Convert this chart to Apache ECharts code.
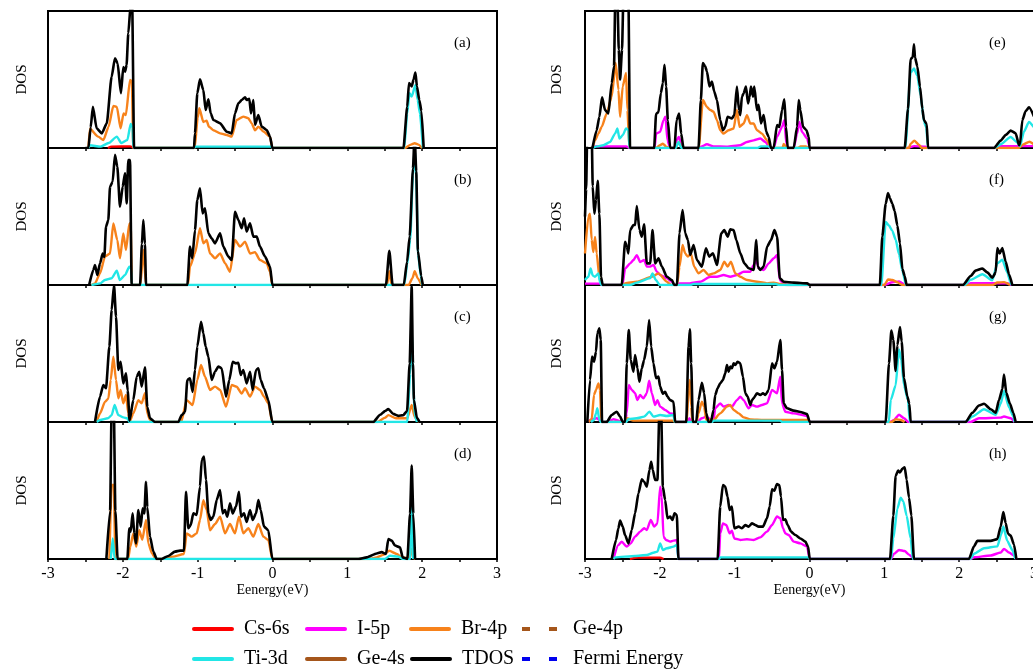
<!DOCTYPE html>
<html>
<head>
<meta charset="utf-8">
<script src="https://cdn.jsdelivr.net/npm/echarts@6/dist/echarts.min.js"></script>
<style>
  html, body { margin: 0; padding: 0; background: #fff; }
  #chart { width: 1033px; height: 672px; }
</style>
</head>
<body>
<div id="chart"></div>
<script>
// energy axis ticks
const xTicks = [-3, -2, -1, 0, 1, 2, 3]
const panelLetters = ['(a)', '(b)', '(c)', '(d)', '(e)', '(f)', '(g)', '(h)']

// ---- panel (a) ----
const tdosA = [[-2.5,0],[-2.46,0],[-2.43,15],[-2.40,30],[-2.35,14.4],[-2.28,10.7],[-2.215,18],[-2.15,52],[-2.105,65.5],[-2.07,61.8],[-2.025,40],[-1.994,59],[-1.97,55.7],[-1.95,60.6],[-1.927,83.7],[-1.895,105],[-1.875,105],[-1.85,0],
  [-1.049,0],[-1.036,10.7],[-1.005,39.9],[-0.969,50.1],[-0.924,42.3],[-0.893,27.7],[-0.857,35.5],[-0.826,25.3],[-0.79,20.4],[-0.70,18],[-0.612,11.9],[-0.545,10.7],[-0.501,25.3],[-0.456,32.6],[-0.412,35],[-0.367,37],[-0.345,35],[-0.31,36],[-0.287,25.3],[-0.256,35],[-0.234,16.8],[-0.189,24.1],[-0.145,15.6],[-0.078,13.1],[-0.033,8.3],[-0.002,0],
  [1.75,0],[1.80,30],[1.824,47.5],[1.86,45],[1.885,50],[1.91,55],[1.93,45],[1.962,35],[1.99,27],[2.02,0]]
const brA = [[-2.46,0],[-2.44,14],[-2.33,8.3],[-2.26,5.8],[-2.19,15.6],[-2.127,30.7],[-2.08,30],[-2.03,14.4],[-1.99,25.3],[-1.96,24],[-1.904,49.6],[-1.88,49],[-1.86,0],
  [-1.04,0],[-1.0,22],[-0.978,29],[-0.924,19],[-0.88,20],[-0.85,15.6],[-0.79,13],[-0.70,10.7],[-0.612,9.5],[-0.545,8.3],[-0.479,20.4],[-0.39,22.9],[-0.323,21.7],[-0.278,18],[-0.234,13],[-0.189,15.6],[-0.122,12],[-0.033,8.3],[-0.002,0],
  [1.77,0],[1.85,2.5],[1.90,3.5],[1.95,2.5],[2.0,0]]
const tiA = [[-2.46,0],[-2.44,2],[-2.30,1],[-2.19,3.6],[-2.08,8.3],[-2.02,3.6],[-1.94,5.8],[-1.895,17.5],[-1.87,15],[-1.86,0],
  [-1.05,0],[-1.03,1],[-0.01,1],[0,0],
  [1.76,0],[1.80,25],[1.83,40],[1.86,37.5],[1.91,46],[1.94,35],[1.97,25],[2.01,0]]
const csA = [[-2.2,0],[-2.15,1],[-1.9,1.2],[-1.86,0]]

// ---- panel (b) ----
const tdosB = [[-2.45,0],[-2.394,11],[-2.372,14.6],[-2.341,7.3],[-2.305,15.8],[-2.269,23],[-2.247,20.5],[-2.225,42.6],[-2.194,47.4],[-2.171,71.8],[-2.136,75.4],[-2.105,95],[-2.074,86.4],[-2.038,57.2],[-2.002,71.8],[-1.971,81.5],[-1.948,59.6],[-1.927,91.2],[-1.904,91.2],[-1.882,0],
  [-1.77,0],[-1.745,30],[-1.726,47.4],[-1.705,30],[-1.69,0],
  [-1.138,0],[-1.103,28],[-1.072,19.5],[-1.036,40],[-1.005,62],[-0.969,70.6],[-0.934,52.3],[-0.902,56],[-0.857,37.7],[-0.813,34],[-0.768,30.4],[-0.70,37.7],[-0.657,28],[-0.59,20.7],[-0.545,18.2],[-0.501,53.5],[-0.456,47.4],[-0.412,41.4],[-0.38,48.7],[-0.345,39],[-0.30,45],[-0.256,35.3],[-0.211,35.3],[-0.167,28],[-0.10,20.7],[-0.033,13.4],[-0.002,0],
  [1.516,0],[1.561,25],[1.605,0],
  [1.754,0],[1.798,17],[1.833,35.5],[1.877,85],[1.899,110],[1.921,83],[1.943,25],[1.987,6.6],[2.009,0]]
const brB = [[-2.42,0],[-2.372,1.2],[-2.305,8.5],[-2.238,20.7],[-2.171,23],[-2.127,45],[-2.074,32.8],[-2.038,19.5],[-1.994,37.7],[-1.958,25.5],[-1.913,45],[-1.895,45],[-1.88,0],
  [-1.765,0],[-1.726,25.5],[-1.69,0],
  [-1.13,0],[-1.103,13.4],[-1.036,23],[-0.969,41.4],[-0.924,30.4],[-0.879,32.8],[-0.835,23],[-0.768,19.5],[-0.70,23],[-0.635,16],[-0.568,9.7],[-0.501,32.8],[-0.434,28],[-0.367,31.6],[-0.30,23],[-0.234,24],[-0.167,18.2],[-0.078,15.8],[-0.033,9.7],[-0.002,0],
  [1.53,0],[1.561,10],[1.59,0],
  [1.82,0],[1.87,5],[1.90,10],[1.94,5],[1.99,0]]
const tiB = [[-2.42,0],[-2.30,1.2],[-2.24,3.6],[-2.15,4.9],[-2.08,10.5],[-2.04,3.6],[-1.97,7.3],[-1.913,13.4],[-1.89,12],[-1.88,0],
  [1.76,0],[1.80,15],[1.84,33],[1.877,80],[1.90,100],[1.92,78],[1.945,22],[1.987,5],[2.0,0]]

// ---- panel (c) ----
const tdosC = [[-2.372,0],[-2.305,18.5],[-2.261,27],[-2.225,24.6],[-2.18,55],[-2.149,81.8],[-2.118,100],[-2.091,76.9],[-2.06,38],[-2.029,44],[-1.994,28.2],[-1.958,35.5],[-1.935,23],[-1.91,1],[-1.86,16],[-1.815,33],[-1.78,36.7],[-1.748,25.8],[-1.704,40],[-1.673,11],[-1.637,2.7],[-1.57,0],
  [-1.258,0],[-1.214,5],[-1.169,7.5],[-1.138,30.7],[-1.103,31.9],[-1.067,22],[-1.036,38],[-1.005,55],[-0.955,73.2],[-0.924,64.7],[-0.893,55],[-0.857,47.7],[-0.813,30.7],[-0.768,36.7],[-0.724,40.4],[-0.679,39.2],[-0.621,18.5],[-0.577,30.7],[-0.532,44],[-0.488,42.8],[-0.456,43.3],[-0.425,34.3],[-0.39,38],[-0.345,28.2],[-0.30,36.7],[-0.265,23.4],[-0.22,38],[-0.189,39.2],[-0.158,30.7],[-0.114,24.6],[-0.056,16],[-0.002,0],
  [1.347,0],[1.439,5.3],[1.504,8],[1.548,9.5],[1.614,5.9],[1.68,4.5],[1.746,5],[1.798,8],[1.833,42.7],[1.86,99],[1.877,42.7],[1.89,16],[1.93,3],[1.965,0]]
const brC = [[-2.35,0],[-2.305,6.3],[-2.238,14.8],[-2.194,17],[-2.162,30.7],[-2.127,47.7],[-2.091,30.7],[-2.06,17.3],[-2.029,23.4],[-1.994,13.6],[-1.958,19.7],[-1.927,6.3],[-1.91,0],[-1.86,6.3],[-1.793,16],[-1.748,13.6],[-1.704,21],[-1.673,6.3],[-1.637,1.5],[-1.6,0],
  [-1.22,0],[-1.147,16],[-1.067,12.4],[-1.005,30.7],[-0.955,41.6],[-0.902,33],[-0.835,23.4],[-0.768,25.8],[-0.70,23.4],[-0.621,11.2],[-0.545,27],[-0.479,25.8],[-0.412,20.7],[-0.367,24.6],[-0.30,18.5],[-0.234,25.8],[-0.167,23.4],[-0.114,18.5],[-0.056,13.6],[-0.002,0],
  [1.40,0],[1.50,3],[1.548,5],[1.65,2.7],[1.80,2.7],[1.86,12.4],[1.90,3.6],[1.94,1],[1.96,0]]
const tiC = [[-2.35,0],[-2.305,1.5],[-2.20,2.7],[-2.149,5],[-2.11,12.4],[-2.06,5],[-1.994,3.4],[-1.94,2.7],[-1.91,0],
  [1.80,0],[1.84,35],[1.86,70],[1.877,35],[1.90,5],[1.93,0]]

// ---- panel (d) ----
const tdosD = [[-2.22,0],[-2.17,35],[-2.15,110],[-2.12,110],[-2.10,35],[-2.07,0],
  [-1.94,0],[-1.913,22.4],[-1.895,20],[-1.869,33.3],[-1.847,18.7],[-1.824,11.4],[-1.793,35.8],[-1.761,23.6],[-1.735,37],[-1.713,33.3],[-1.69,56.4],[-1.673,37.7],[-1.637,16.3],[-1.592,5.4],[-1.548,0],
  [-1.481,0],[-1.392,2.2],[-1.303,5.4],[-1.236,6.1],[-1.183,6.1],[-1.156,49],[-1.125,22.4],[-1.093,24.8],[-1.058,33.3],[-1.013,32.1],[-0.969,52.8],[-0.946,72.3],[-0.915,74.7],[-0.889,57.7],[-0.857,33.3],[-0.826,28.5],[-0.79,30.9],[-0.746,43],[-0.701,50.4],[-0.666,33.3],[-0.635,35.8],[-0.604,30.9],[-0.568,40.6],[-0.532,33.3],[-0.488,38.2],[-0.448,49],[-0.421,30.9],[-0.381,33.3],[-0.345,27],[-0.30,35.8],[-0.265,28.5],[-0.22,33.3],[-0.189,43],[-0.158,35.8],[-0.114,23.6],[-0.056,21],[-0.002,0],
  [1.147,0],[1.259,1.2],[1.392,4],[1.459,5],[1.517,3.7],[1.548,14.6],[1.593,13.4],[1.637,9.8],[1.704,8.5],[1.74,1.2],[1.802,0],[1.838,33],[1.86,68.3],[1.882,33],[1.905,0]]
const brD = [[-2.18,0],[-2.15,54],[-2.12,54],[-2.10,0],
  [-1.93,0],[-1.90,9],[-1.86,18.7],[-1.82,9],[-1.78,21],[-1.74,14],[-1.69,28.5],[-1.66,11.4],[-1.61,4.1],[-1.56,0],
  [-1.48,0],[-1.33,1.7],[-1.183,3.6],[-1.147,18.7],[-1.08,16.3],[-1.013,18.7],[-0.969,28.5],[-0.924,43],[-0.88,35.8],[-0.835,21],[-0.768,25.5],[-0.70,30.9],[-0.635,18.7],[-0.568,25.5],[-0.501,18.7],[-0.448,30.9],[-0.39,18.7],[-0.323,22.4],[-0.256,16.3],[-0.189,25.5],[-0.122,16.3],[-0.056,13.9],[-0.002,0],
  [1.30,0],[1.392,1.2],[1.481,3],[1.56,6],[1.66,3.6],[1.74,0.7],[1.838,1.2],[1.86,7.3],[1.89,0.7],[1.905,0]]
const tiD = [[-2.16,0],[-2.135,15],[-2.11,0],[1.50,0],[1.57,2.4],[1.68,1.7],[1.74,0],[1.84,0],[1.86,55],[1.88,0]]

// ---- panel (e) ----
const tdosE = [[-2.9,0],[-2.844,13],[-2.808,22.8],[-2.772,37],[-2.732,27.7],[-2.688,25.2],[-2.643,47.3],[-2.612,59.6],[-2.595,110],[-2.567,110],[-2.549,71.8],[-2.531,50],[-2.505,71.8],[-2.487,110],[-2.42,110],[-2.398,0],
  [-2.076,0],[-2.05,25],[-2.018,26.2],[-1.987,40],[-1.96,47.3],[-1.938,60.8],[-1.916,44.9],[-1.893,20.3],[-1.862,0],[-1.804,0],[-1.777,20.3],[-1.742,25.2],[-1.715,10.5],[-1.684,0],
  [-1.483,0],[-1.452,35],[-1.425,62],[-1.394,59.6],[-1.371,55.9],[-1.336,44.9],[-1.304,48.5],[-1.273,41.2],[-1.237,35],[-1.193,20.3],[-1.157,13],[-1.126,15.4],[-1.095,22.8],[-1.037,21.6],[-1.005,24],[-0.97,44.9],[-0.943,27.7],[-0.925,24],[-0.903,37.5],[-0.88,40],[-0.849,44.9],[-0.822,32.6],[-0.8,37.5],[-0.782,44.9],[-0.755,37.5],[-0.738,44.9],[-0.702,27.7],[-0.68,31.6],[-0.648,17.9],[-0.613,24],[-0.577,11.8],[-0.546,8.1],[-0.514,0],
  [-0.479,0],[-0.434,16.7],[-0.403,15.4],[-0.367,27.7],[-0.336,35.5],[-0.314,15.4],[-0.291,0],[-0.211,0],[-0.166,15.4],[-0.144,35],[-0.122,27.7],[-0.086,15.4],[-0.041,13],[-0.01,8.1],[0,0],
  [1.272,0],[1.316,28.4],[1.352,64.9],[1.379,66.2],[1.396,75.7],[1.41,66],[1.441,59.5],[1.477,44.6],[1.508,28.4],[1.53,20.3],[1.566,17.6],[1.584,0],
  [2.465,0],[2.554,5.4],[2.621,9.5],[2.688,12.7],[2.755,10.8],[2.80,2],[2.813,2.7],[2.844,20.3],[2.889,27],[2.933,29.7],[3.0,23]]
const brE = [[-2.9,0],[-2.866,5.6],[-2.821,10.5],[-2.777,15.4],[-2.71,25.2],[-2.643,37.5],[-2.59,62],[-2.553,42.4],[-2.531,22.8],[-2.496,44.9],[-2.451,54.7],[-2.433,27.7],[-2.407,0],
  [-2.05,0],[-2.0,2],[-1.96,3.2],[-1.916,1],[-1.86,0],[-1.79,0],[-1.75,4.4],[-1.70,0],
  [-1.48,0],[-1.425,35],[-1.371,30],[-1.327,27.7],[-1.282,26.5],[-1.237,20.3],[-1.193,13],[-1.148,10.5],[-1.081,13],[-1.014,14.2],[-0.97,27.7],[-0.934,15.4],[-0.88,17.9],[-0.836,24],[-0.791,17.9],[-0.747,17.9],[-0.702,13],[-0.635,10.5],[-0.568,5.6],[-0.523,0.7],[-0.51,0],
  [-0.36,0],[-0.345,3],[-0.30,0],[-0.15,0],[-0.12,1.2],[-0.05,1.2],[0,0],
  [1.33,0],[1.35,3],[1.40,5.4],[1.46,2.5],[1.50,0],
  [2.80,0],[2.85,2.5],[2.94,4.6],[3.0,2.5]]
const tiE = [[-2.9,0],[-2.844,1.2],[-2.755,2],[-2.665,4.4],[-2.598,10.5],[-2.567,14.2],[-2.54,6.9],[-2.496,9.3],[-2.451,14.2],[-2.42,13],[-2.405,0],
  [-1.79,0],[-1.75,4.4],[-1.71,0],
  [-0.70,0],[-0.65,1.2],[-0.55,1.2],[-0.52,0],
  [1.28,0],[1.352,55],[1.396,58],[1.441,52.7],[1.486,38],[1.53,19],[1.56,15],[1.584,0],
  [2.47,0],[2.554,2.7],[2.688,8],[2.777,4],[2.813,1.4],[2.866,12],[2.933,19],[3.0,15]]
const iE = [[-2.9,0],[-2.86,1.2],[-2.45,1.2],[-2.40,0],
  [-2.07,0],[-2.05,10.5],[-1.996,11.8],[-1.951,20.3],[-1.925,22.8],[-1.898,5.6],[-1.862,0],[-1.80,0],[-1.777,5.6],[-1.746,8.1],[-1.715,3.2],[-1.684,0],
  [-1.47,0],[-1.45,1],[-1.371,2.7],[-1.282,1.2],[-1.103,1],[-0.925,2],[-0.836,4.4],[-0.747,5.6],[-0.657,6.9],[-0.59,4.4],[-0.523,0],
  [-0.479,0],[-0.434,8.1],[-0.367,15.4],[-0.336,20.3],[-0.31,3],[-0.291,0],[-0.211,0],[-0.166,10.5],[-0.135,19],[-0.10,11.8],[-0.032,7],[-0.01,3],[0,0],
  [1.30,0],[1.40,1.4],[1.55,1],[1.58,0],
  [2.50,0],[2.55,1.4],[3.0,1.4]]

// ---- panel (f) ----
const tdosF = [[-3,50],[-2.985,70],[-2.97,110],[-2.91,110],[-2.897,72],[-2.875,52],[-2.853,62],[-2.83,76],[-2.808,52],[-2.786,6],[-2.763,0],
  [-2.509,0],[-2.464,31.6],[-2.441,28],[-2.42,23.1],[-2.397,40],[-2.353,43.8],[-2.33,43.8],[-2.308,57.7],[-2.272,40.1],[-2.241,35.3],[-2.21,44.3],[-2.174,15.8],[-2.129,15.8],[-2.098,40.1],[-2.062,15.8],[-2.018,19.5],[-1.973,13.4],[-1.906,6],[-1.839,3.6],[-1.808,0],
  [-1.772,0],[-1.737,37.7],[-1.696,54.7],[-1.661,37.7],[-1.625,32.8],[-1.594,21.9],[-1.549,29.2],[-1.504,18.2],[-1.438,13.4],[-1.384,26.8],[-1.34,20.7],[-1.29,23.1],[-1.237,14.6],[-1.179,37.7],[-1.139,40.1],[-1.094,35.3],[-1.058,40.6],[-1.014,40.1],[-0.978,32.8],[-0.924,23.1],[-0.871,15.8],[-0.813,12.2],[-0.746,11],[-0.71,32.8],[-0.692,13.4],[-0.657,11],[-0.612,13.4],[-0.567,28],[-0.514,32.8],[-0.469,40.1],[-0.433,35.3],[-0.397,4.9],[-0.344,2.4],[-0.21,1.7],[-0.031,1.2],[0.005,0],
  [0.94,0],[0.973,35.5],[1.018,59.2],[1.049,67.1],[1.076,63.2],[1.107,59.2],[1.138,54],[1.174,43.4],[1.209,30.3],[1.241,11.8],[1.272,6.6],[1.298,0],
  [2.05,0],[2.154,6.6],[2.22,10.5],[2.31,12],[2.376,9.2],[2.443,5.3],[2.488,9.2],[2.51,27],[2.541,23],[2.577,27],[2.621,17.1],[2.666,7.9],[2.71,0]]
const brF = [[-3,23],[-2.955,50],[-2.933,52],[-2.911,33],[-2.889,24],[-2.866,35],[-2.844,23],[-2.808,6],[-2.786,1.2],[-2.77,0],
  [-2.50,0],[-2.464,1.2],[-2.308,2.4],[-2.107,6],[-2.018,8.5],[-1.906,2.4],[-1.85,0],
  [-1.77,0],[-1.737,13.4],[-1.696,29.2],[-1.661,23],[-1.625,20.7],[-1.585,23],[-1.541,13.4],[-1.483,8.5],[-1.416,11],[-1.349,7.3],[-1.282,8.5],[-1.192,11],[-1.139,17],[-1.094,13.4],[-1.05,17],[-0.991,8.5],[-0.924,6],[-0.835,3.6],[-0.701,2.4],[-0.567,1.2],[-0.478,1.7],[-0.389,0.7],[-0.3,0],
  [1.0,0],[1.05,4],[1.107,3.6],[1.174,2],[1.24,0],
  [2.45,0],[2.51,1.8],[2.6,2.1],[2.68,0]]
const tiF = [[-3,3.6],[-2.955,6],[-2.925,12],[-2.897,7],[-2.866,6],[-2.82,8.5],[-2.80,2],[-2.78,0],
  [-2.40,0],[-2.308,1.7],[-2.129,5],[-2.098,8.5],[-2.053,3.6],[-2.0,0],
  [-1.6,0],[-1.55,0.7],[-0.45,0.7],[-0.4,0],
  [0.96,0],[1.018,46],[1.062,43.4],[1.107,39.5],[1.152,33],[1.196,22.4],[1.241,10.5],[1.29,0],
  [2.07,0],[2.154,3.9],[2.31,7.9],[2.443,3.4],[2.51,15.8],[2.577,18.4],[2.643,9.2],[2.688,1.3],[2.70,0]]
const iF = [[-3,1],[-2.8,1],[-2.77,0],
  [-2.50,0],[-2.464,12],[-2.397,15.8],[-2.353,18.2],[-2.308,21.8],[-2.263,16.8],[-2.21,18.2],[-2.174,13.4],[-2.129,13.4],[-2.085,14.6],[-2.04,9.7],[-1.996,7.3],[-1.906,4.9],[-1.839,2.4],[-1.8,0],
  [-1.77,0],[-1.737,1.2],[-1.60,1.2],[-1.459,2.4],[-1.327,6],[-1.237,6],[-1.148,7.3],[-1.058,6],[-0.969,7.3],[-0.88,9.7],[-0.79,9.7],[-0.746,14.6],[-0.71,18.2],[-0.679,12.2],[-0.612,11],[-0.545,15.8],[-0.478,19.5],[-0.433,21.9],[-0.397,3.6],[-0.344,1.2],[-0.3,0],
  [1.0,0],[1.107,2],[1.196,2.6],[1.24,1.3],[1.27,0],
  [2.1,0],[2.154,1.3],[2.643,1.3],[2.7,0]]

// ---- panel (g) ----
const tdosG = [[-2.969,0],[-2.933,30.7],[-2.906,47.7],[-2.88,44],[-2.853,51.3],[-2.835,64.7],[-2.808,68.4],[-2.79,60],[-2.772,0],
  [-2.71,0],[-2.643,5.1],[-2.576,7.5],[-2.531,3.9],[-2.496,0],
  [-2.465,0],[-2.442,42.8],[-2.415,67.2],[-2.389,45.3],[-2.353,36.7],[-2.331,48.9],[-2.299,39.2],[-2.273,29.4],[-2.241,39.2],[-2.21,45.3],[-2.174,55],[-2.143,74.5],[-2.116,55],[-2.085,42.8],[-2.05,31.9],[-2.018,33.1],[-1.996,25.8],[-1.96,20.7],[-1.929,22],[-1.898,18.5],[-1.862,16],[-1.817,14.8],[-1.795,0],
  [-1.648,0],[-1.616,55],[-1.598,67.6],[-1.581,42.8],[-1.559,0],
  [-1.514,0],[-1.483,16],[-1.438,28.7],[-1.407,21],[-1.38,6.3],[-1.349,0],[-1.318,0],[-1.282,8.8],[-1.26,19.7],[-1.228,24.6],[-1.193,28.2],[-1.157,30.7],[-1.126,35.5],[-1.103,41.6],[-1.081,36.7],[-1.059,40.4],[-1.037,39.2],[-1.014,42.8],[-0.992,41.6],[-0.961,44],[-0.925,42.8],[-0.889,33],[-0.858,21],[-0.827,18.5],[-0.791,12.4],[-0.769,16],[-0.747,17.3],[-0.702,21],[-0.657,19.7],[-0.622,21],[-0.59,19.7],[-0.546,23.4],[-0.501,42.8],[-0.47,39.2],[-0.434,44],[-0.39,59.9],[-0.367,38],[-0.345,13.6],[-0.301,10],[-0.211,8.3],[-0.122,7.3],[-0.033,5.8],[0.003,0],
  [1.018,0],[1.062,42.7],[1.094,66.7],[1.12,60],[1.151,37.3],[1.174,56],[1.209,69.3],[1.232,58.7],[1.263,32],[1.307,18.7],[1.334,13.3],[1.352,0],
  [2.087,0],[2.176,6.7],[2.265,12],[2.332,13.3],[2.421,9.3],[2.488,6.7],[2.532,16],[2.577,24],[2.599,34.7],[2.63,21.3],[2.679,13.3],[2.724,6.7],[2.755,0]]
const brG = [[-2.95,0],[-2.91,2],[-2.88,19.7],[-2.853,23.4],[-2.82,28.2],[-2.80,23.4],[-2.78,0],
  [-2.46,0],[-2.442,2.7],[-2.353,1],[-1.82,1],[-1.80,0],
  [-1.64,0],[-1.616,24],[-1.598,30.7],[-1.581,11],[-1.565,0],
  [-1.51,0],[-1.483,6.3],[-1.438,14.8],[-1.407,11],[-1.38,1.5],[-1.282,1.5],[-1.193,6.3],[-1.103,11.2],[-1.059,12.4],[-1.014,8.8],[-0.947,6.3],[-0.88,3.4],[-0.791,1.9],[-0.61,1.5],[-0.033,1.5],[0,0],
  [1.1,0],[1.151,2],[1.22,1.5],[1.27,0]]
const tiG = [[-2.92,0],[-2.88,1.5],[-2.853,6.3],[-2.835,10],[-2.808,1.5],[-2.79,0],
  [-2.45,0],[-2.42,2],[-2.31,2.7],[-2.21,3.9],[-2.139,7.5],[-2.085,3.9],[-1.996,5.1],[-1.907,4.4],[-1.817,5.1],[-1.80,0],
  [-1.3,0],[-1.28,1],[-0.39,1],[-0.37,0],
  [1.06,0],[1.085,16],[1.151,26.7],[1.196,53],[1.227,45],[1.263,26.7],[1.316,16],[1.34,0],
  [2.09,0],[2.176,4],[2.332,9.3],[2.488,5.3],[2.555,13.3],[2.599,22.7],[2.666,10.7],[2.724,4],[2.74,0]]
const iG = [[-2.95,0],[-2.933,1.5],[-2.844,2.7],[-2.79,1],[-2.77,0],
  [-2.70,0],[-2.62,2],[-2.55,1],[-2.50,0],
  [-2.465,0],[-2.442,6.3],[-2.415,27],[-2.375,23.4],[-2.331,21],[-2.299,16],[-2.264,19.7],[-2.219,17.3],[-2.174,21],[-2.143,30.2],[-2.107,21],[-2.063,12.4],[-2.032,16],[-1.996,11.2],[-1.929,8.8],[-1.862,6.3],[-1.808,5.8],[-1.795,0],
  [-1.63,0],[-1.605,2.7],[-1.58,0],
  [-1.50,0],[-1.44,2.7],[-1.38,3.9],[-1.30,1],[-1.282,1.5],[-1.26,10],[-1.193,13.6],[-1.148,11.2],[-1.081,12.4],[-1.037,11.2],[-0.97,16],[-0.925,18.5],[-0.88,16],[-0.814,10],[-0.769,12.4],[-0.702,11.2],[-0.635,12.4],[-0.568,13.6],[-0.501,23.4],[-0.434,21],[-0.39,33],[-0.367,13.6],[-0.323,7.5],[-0.211,6.3],[-0.033,4.4],[0.003,0],
  [1.08,0],[1.13,1.5],[1.196,5.3],[1.263,2.7],[1.32,0],
  [2.15,0],[2.265,2.7],[2.555,3.2],[2.599,4],[2.688,2.7],[2.74,0]]

// ---- panel (h) ----
const tdosH = [[-2.643,0],[-2.585,13.9],[-2.554,22.4],[-2.531,28],[-2.496,23.6],[-2.465,17.5],[-2.42,11.4],[-2.375,21.2],[-2.331,33.3],[-2.286,47.9],[-2.241,58.2],[-2.21,56.4],[-2.174,52.8],[-2.139,65],[-2.116,71],[-2.094,65],[-2.063,57.7],[-2.032,57.7],[-2.005,110],[-1.983,110],[-1.96,52.8],[-1.929,43],[-1.898,29.7],[-1.862,30.9],[-1.831,28.5],[-1.804,33.3],[-1.773,32.1],[-1.751,0],
  [-1.228,0],[-1.193,38.2],[-1.157,54],[-1.126,52.8],[-1.095,45.5],[-1.068,35.8],[-1.037,38.2],[-1.005,22.4],[-0.947,23.6],[-0.903,22.4],[-0.858,24.8],[-0.813,23.6],[-0.769,26],[-0.724,24.8],[-0.68,23.6],[-0.622,23.6],[-0.568,29.7],[-0.532,38.2],[-0.501,50.9],[-0.47,49.9],[-0.434,54.7],[-0.403,53.9],[-0.381,45.5],[-0.354,28.5],[-0.323,29],[-0.292,24.8],[-0.247,20],[-0.189,17.5],[-0.122,15],[-0.055,12.7],[-0.019,9],[0.003,0],
  [1.076,0],[1.12,31.6],[1.151,60.5],[1.183,64.5],[1.209,63.2],[1.241,65.8],[1.272,67],[1.298,57.9],[1.33,44.7],[1.361,31.6],[1.396,0],
  [2.131,0],[2.198,9.2],[2.243,13.2],[2.332,13.2],[2.421,13.2],[2.51,14.5],[2.555,23.7],[2.59,34.2],[2.621,26.3],[2.653,18.4],[2.688,17.1],[2.733,10.5],[2.764,0]]
const iH = [[-2.62,0],[-2.554,10.2],[-2.509,12.7],[-2.442,9],[-2.389,11.4],[-2.331,16.3],[-2.264,20],[-2.21,22.4],[-2.174,21.2],[-2.121,28.5],[-2.076,23.6],[-2.032,26],[-1.996,52.8],[-1.974,45.5],[-1.951,16.3],[-1.916,13.9],[-1.862,12.7],[-1.817,13.4],[-1.773,13.9],[-1.751,0],
  [-1.21,0],[-1.193,18.7],[-1.157,26],[-1.112,24.8],[-1.068,18.7],[-1.037,20.7],[-1.005,15],[-0.925,13.9],[-0.836,14.4],[-0.747,13.9],[-0.657,15.8],[-0.568,20],[-0.501,24.8],[-0.434,31],[-0.39,29.7],[-0.354,22.4],[-0.323,18.7],[-0.278,17.5],[-0.211,12.7],[-0.122,11.4],[-0.033,9],[0.003,0],
  [1.09,0],[1.13,3.9],[1.196,6.6],[1.272,5.8],[1.33,3.2],[1.374,1.3],[1.396,0],
  [2.15,0],[2.198,1.3],[2.421,2.6],[2.555,4.7],[2.599,7.4],[2.666,4.7],[2.733,2.6],[2.764,0]]
const tiH = [[-2.62,0],[-2.60,1.2],[-2.331,2.2],[-2.174,2.9],[-2.085,4.6],[-2.032,5.4],[-1.996,11.4],[-1.96,6.6],[-1.907,7.8],[-1.817,9],[-1.773,10.2],[-1.751,0],
  [-1.21,0],[-1.19,1.2],[-0.01,1.2],[0.003,0],
  [1.09,0],[1.12,15],[1.174,36.8],[1.218,44.7],[1.254,42],[1.298,31.6],[1.352,15],[1.38,0],
  [2.15,0],[2.198,3.9],[2.332,7.9],[2.51,9.2],[2.564,18.4],[2.59,23.7],[2.643,13.2],[2.71,6.6],[2.75,0]]
const csH = [[-2.4,0],[-2.3,1],[-2.0,1],[-1.95,0]]

// species with nothing visible above the baseline
const ge4s = []
const ge4p = []
const fermi = []

const colors = {
  'Cs-6s': '#ff0000', 'I-5p': '#ff00ff', 'Br-4p': '#f7821b', 'Ge-4p': '#a5561b',
  'Ti-3d': '#22e6e6', 'Ge-4s': '#a5561b', 'TDOS': '#000000', 'Fermi Energy': '#0000ee'
}

// panel table: order of drawing inside a panel (TDOS last, on top)
const panels = [
  { 'Cs-6s': csA, 'Br-4p': brA, 'Ti-3d': tiA, 'TDOS': tdosA },
  { 'Br-4p': brB, 'Ti-3d': tiB, 'TDOS': tdosB },
  { 'Br-4p': brC, 'Ti-3d': tiC, 'TDOS': tdosC },
  { 'Br-4p': brD, 'Ti-3d': tiD, 'TDOS': tdosD },
  { 'I-5p': iE, 'Br-4p': brE, 'Ti-3d': tiE, 'TDOS': tdosE },
  { 'I-5p': iF, 'Br-4p': brF, 'Ti-3d': tiF, 'TDOS': tdosF },
  { 'I-5p': iG, 'Br-4p': brG, 'Ti-3d': tiG, 'TDOS': tdosG },
  { 'Cs-6s': csH, 'I-5p': iH, 'Ti-3d': tiH, 'TDOS': tdosH }
]

const serif = '"Liberation Serif", "Times New Roman", serif'
const panelTop = 11
const panelH = 137

const grids = []
const xAxes = []
const yAxes = []
const series = []
const graphics = []

panels.forEach((p, i) => {
  const col = i < 4 ? 0 : 1
  const row = i % 4
  const left = col === 0 ? 48 : 585
  const isBottom = row === 3
  grids.push({
    left: left, top: panelTop + row * panelH, width: 449, height: panelH,
    containLabel: false, outerBoundsMode: 'none',
    show: true, borderColor: '#000', borderWidth: 2, backgroundColor: 'transparent'
  })
  xAxes.push({
    type: 'value', gridIndex: i, min: -3, max: 3, interval: 0.5,
    axisLine: { show: true, onZero: false, lineStyle: { color: '#000', width: 2 } },
    axisTick: { show: true, inside: false, length: 3, lineStyle: { color: '#000', width: 1.5 } },
    axisLabel: {
      show: isBottom, color: '#000', fontFamily: serif, fontSize: 16, margin: 7,
      formatter: v => (xTicks.includes(v) ? String(v) : '')
    },
    splitLine: { show: false },
    name: isBottom ? 'Eenergy(eV)' : '',
    nameLocation: 'middle', nameGap: 24,
    nameTextStyle: { color: '#000', fontFamily: serif, fontSize: 14 }
  })
  yAxes.push({
    type: 'value', gridIndex: i, min: 0, max: 100,
    axisLine: { show: false }, axisTick: { show: false }, axisLabel: { show: false },
    splitLine: { show: false },
    name: 'DOS', nameLocation: 'middle', nameRotate: 90, nameGap: col === 0 ? 18 : 20,
    nameTextStyle: { color: '#000', fontFamily: serif, fontSize: 15 }
  })
  Object.keys(p).forEach((name, k) => {
    series.push({
      name: name, type: 'line', xAxisIndex: i, yAxisIndex: i,
      data: p[name], symbol: 'none', clip: true, z: 2 + k,
      smooth: 0.2, smoothMonotone: 'x',
      lineStyle: { color: colors[name], width: name === 'TDOS' ? 2.6 : 2.4, join: 'round' },
      itemStyle: { color: colors[name] }
    })
  })
  graphics.push({
    type: 'text', left: (col === 0 ? 465 : 1000) - 11, top: 43 + row * panelH - 7,
    style: { text: panelLetters[i], font: '15px ' + serif, fill: '#000' }
  })
})

// legend-only species
series.push({ name: 'Ge-4p', type: 'line', xAxisIndex: 0, yAxisIndex: 0, data: ge4p, symbol: 'none',
  lineStyle: { color: colors['Ge-4p'], type: 'dashed', width: 2.4 }, itemStyle: { color: colors['Ge-4p'] } })
series.push({ name: 'Ge-4s', type: 'line', xAxisIndex: 0, yAxisIndex: 0, data: ge4s, symbol: 'none',
  lineStyle: { color: colors['Ge-4s'], width: 2.4 }, itemStyle: { color: colors['Ge-4s'] } })
series.push({ name: 'Fermi Energy', type: 'line', xAxisIndex: 0, yAxisIndex: 0, data: fermi, symbol: 'none',
  lineStyle: { color: colors['Fermi Energy'], type: 'dashed', width: 2.4 }, itemStyle: { color: colors['Fermi Energy'] } })

const solidIcon = 'path://M2,0h38a2,2 0 0 1 0,4h-38a2,2 0 0 1 0,-4z'
const dashIcon = 'path://M0,0h8v4h-8zM27,0h8v4h-8z'
const legendItems = [
  ['Cs-6s', 192, 619, false], ['I-5p', 305, 619, false], ['Br-4p', 409, 619, false], ['Ge-4p', 522, 619, true],
  ['Ti-3d', 192, 649, false], ['Ge-4s', 305, 649, false], ['TDOS', 410, 649, false], ['Fermi Energy', 522, 649, true]
]
const legends = legendItems.map(([name, x, y, dashed]) => ({
  data: [{ name: name, icon: dashed ? dashIcon : solidIcon }],
  left: x, top: y, padding: 0, selectedMode: false,
  itemWidth: dashed ? 35 : 42, itemHeight: 4,
  textStyle: { color: '#000', fontFamily: serif, fontSize: 20, padding: [0, 0, 0, dashed ? 11 : 5] }
}))

const chart = echarts.init(document.getElementById('chart'))
chart.setOption({
  animation: false,
  backgroundColor: '#fff',
  grid: grids,
  xAxis: xAxes,
  yAxis: yAxes,
  legend: legends,
  graphic: graphics,
  series: series
})
</script>
</body>
</html>
